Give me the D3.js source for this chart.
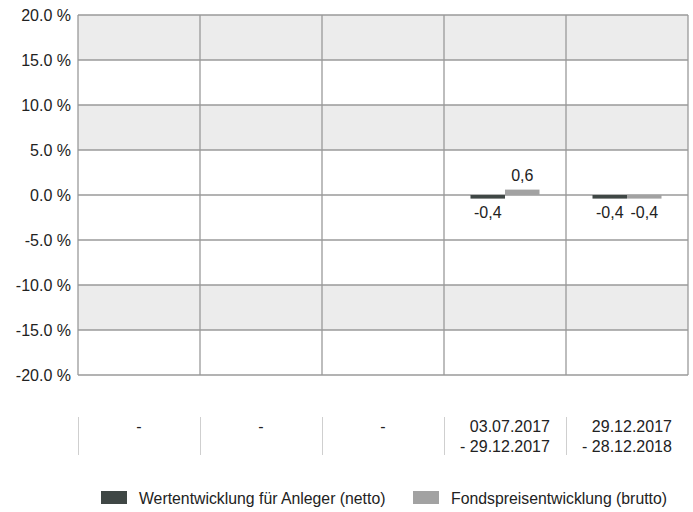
<!DOCTYPE html>
<html>
<head>
<meta charset="utf-8">
<script src="https://cdn.jsdelivr.net/npm/d3@7"></script>
<style>
  body { margin: 0; background: #fff; }
  text { font-family: "Liberation Sans", Arial, sans-serif; fill: #222; }
</style>
</head>
<body>
<svg id="figure"></svg>
<script>
var periods = ["p1", "p2", "p3", "p4", "p5"];
var periodLabels = [["-"], ["-"], ["-"], ["03.07.2017", "- 29.12.2017"], ["29.12.2017", "- 28.12.2018"]];
var netto = [null, null, null, -0.4, -0.4];
var brutto = [null, null, null, 0.6, -0.4];
var seriesNames = ["Wertentwicklung für Anleger (netto)", "Fondspreisentwicklung (brutto)"];
var seriesColors = ["#3f4745", "#a2a2a2"];
var yTicks = [-20, -15, -10, -5, 0, 5, 10, 15, 20];
var bands = [[15, 20], [5, 10], [-15, -10]];

var fullWidth = 693, fullHeight = 512;
var margin = {top: 15, left: 78, right: 5};
var width = fullWidth - margin.left - margin.right;   // 610
var height = 360;

var svg = d3.select("#figure").attr("width", fullWidth).attr("height", fullHeight);
var g = svg.append("g").attr("transform", "translate(" + margin.left + "," + margin.top + ")");

var x = d3.scaleBand().domain(periods).range([0, width]);
var y = d3.scaleLinear().domain([-20, 20]).range([height, 0]);

// shaded bands
g.selectAll(".band").data(bands).enter().append("rect")
    .attr("x", 0).attr("width", width)
    .attr("y", function(d) { return y(d[1]); })
    .attr("height", function(d) { return y(d[0]) - y(d[1]); })
    .attr("fill", "#ececec");

// horizontal grid
g.selectAll(".hgrid").data(yTicks).enter().append("line")
    .attr("x1", 0).attr("x2", width)
    .attr("y1", function(d) { return y(d); }).attr("y2", function(d) { return y(d); })
    .attr("stroke", "#9a9a9a").attr("stroke-width", 1.3);

// vertical grid
var vlines = periods.map(function(p) { return x(p); }).concat([width]);
g.selectAll(".vgrid").data(vlines).enter().append("line")
    .attr("x1", function(d) { return d; }).attr("x2", function(d) { return d; })
    .attr("y1", 0).attr("y2", height)
    .attr("stroke", "#9a9a9a").attr("stroke-width", 1.3);

// y axis labels (hyphen minus, like the original)
var fmt = function(d) { return d3.format(".1f")(d).replace("\u2212", "-") + " %"; };
g.selectAll(".ylab").data(yTicks).enter().append("text")
    .attr("x", -7).attr("y", function(d) { return y(d) + 6; })
    .attr("text-anchor", "end").style("font-size", "16px")
    .text(fmt);

// bars
var x1 = d3.scaleBand().domain([0, 1]).range([0, 69]);
var barData = [];
periods.forEach(function(p, i) {
    [netto[i], brutto[i]].forEach(function(v, s) {
        if (v !== null) barData.push({p: p, s: s, v: v});
    });
});
var groupOffset = (x.bandwidth() - 69) / 2;

g.selectAll(".bar").data(barData).enter().append("rect")
    .attr("x", function(d) { return x(d.p) + groupOffset + x1(d.s); })
    .attr("width", x1.bandwidth())
    .attr("y", function(d) { return y(Math.max(0, d.v)); })
    .attr("height", function(d) { return Math.abs(y(d.v) - y(0)); })
    .attr("fill", function(d) { return seriesColors[d.s]; });

g.selectAll(".blab").data(barData).enter().append("text")
    .attr("x", function(d) { return x(d.p) + groupOffset + x1(d.s) + x1.bandwidth() / 2; })
    .attr("y", function(d) { return d.v >= 0 ? y(d.v) - 9 : y(d.v) + 19; })
    .attr("text-anchor", "middle").style("font-size", "16px")
    .text(function(d) { return d3.format(".1f")(d.v).replace("\u2212", "-").replace(".", ","); });

// category labels below
var cat = svg.append("g").attr("transform", "translate(" + margin.left + ",0)");
periods.forEach(function(p, i) {
    cat.append("line")
        .attr("x1", x(p) + 0.5).attr("x2", x(p) + 0.5)
        .attr("y1", 417).attr("y2", 455)
        .attr("stroke", "#cfcfcf").attr("stroke-width", 1);
    var lines = periodLabels[i];
    var cx = x(p) + x.bandwidth() / 2;
    var t = cat.append("g");
    var texts = lines.map(function(l, k) {
        return t.append("text").attr("y", 432 + k * 20).style("font-size", "16px").text(l);
    });
    var maxW = d3.max(texts, function(tx) { return tx.node().getComputedTextLength(); });
    texts.forEach(function(tx) {
        tx.attr("x", cx + maxW / 2).attr("text-anchor", "end");
    });
});

// legend
var legend = svg.append("g");
var legX = [101, 413];
seriesNames.forEach(function(n, i) {
    legend.append("rect").attr("x", legX[i]).attr("y", 491)
        .attr("width", 26).attr("height", 13).attr("fill", seriesColors[i]);
    legend.append("text").attr("x", legX[i] + 38).attr("y", 504)
        .style("font-size", "15.8px").text(n);
});
</script>
</body>
</html>
